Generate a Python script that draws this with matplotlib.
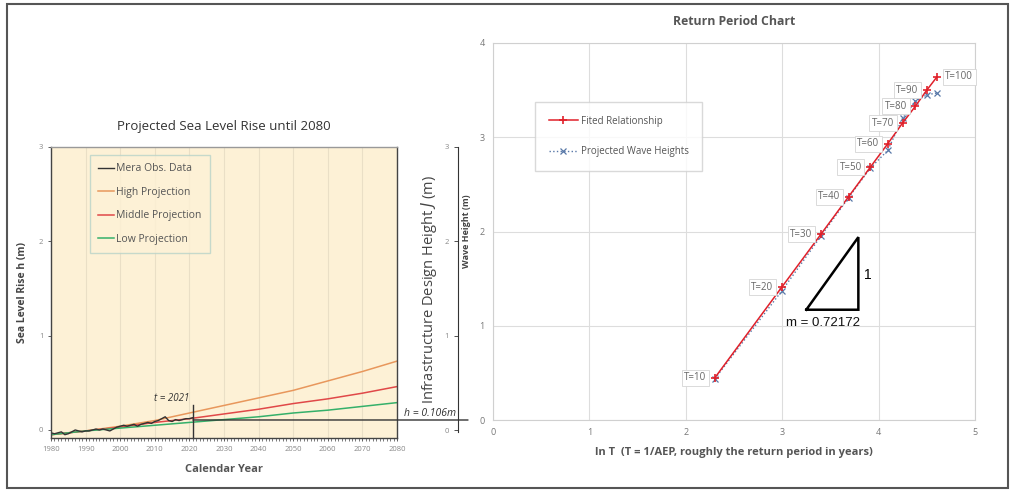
import numpy as np
import matplotlib as mpl
mpl.use('Agg')
import matplotlib.pyplot as plt
from matplotlib.patches import Rectangle

# ---- left chart data (sea level rise) ----
obs_years = list(range(1980, 2022))
obs_rise = [-0.03, -0.04, -0.03, -0.02, -0.05, -0.04, -0.02, 0.00, -0.01, -0.02,
            -0.01, -0.01, 0.00, 0.01, 0.00, 0.01, 0.00, -0.01, 0.01, 0.03,
            0.04, 0.05, 0.04, 0.05, 0.06, 0.04, 0.06, 0.07, 0.08, 0.07,
            0.09, 0.10, 0.12, 0.14, 0.10, 0.09, 0.11, 0.10, 0.11, 0.12,
            0.12, 0.13]
proj_years = [1980, 1990, 2000, 2010, 2020, 2030, 2040, 2050, 2060, 2070, 2080]
high_proj = [-0.05, -0.01, 0.04, 0.10, 0.18, 0.26, 0.34, 0.42, 0.52, 0.62, 0.73]
mid_proj = [-0.05, -0.01, 0.03, 0.08, 0.12, 0.17, 0.22, 0.28, 0.33, 0.39, 0.46]
low_proj = [-0.05, -0.01, 0.02, 0.05, 0.08, 0.11, 0.14, 0.18, 0.21, 0.25, 0.29]
t_now = 2021
h_now = 0.106

# ---- right chart data (return period) ----
T_labels = ['T=10', 'T=20', 'T=30', 'T=40', 'T=50', 'T=60', 'T=70', 'T=80', 'T=90', 'T=100']
lnT = [2.303, 2.996, 3.401, 3.689, 3.912, 4.094, 4.248, 4.382, 4.500, 4.605]
fitted = [0.45, 1.41, 1.97, 2.37, 2.68, 2.93, 3.15, 3.33, 3.50, 3.64]
projected = [0.44, 1.37, 1.95, 2.36, 2.67, 2.86, 3.20, 3.38, 3.45, 3.47]
slope_txt = 'm = 0.72172'

plt.rcParams['font.family'] = ['Open Sans', 'DejaVu Sans']

W, H = 1013, 491
fig = plt.figure(figsize=(W / 100, H / 100), dpi=100)
fig.patch.set_facecolor('white')

def fx(px):
    return px / W

def fy(py):
    return 1 - py / H

# outer frame
fig.patches.append(Rectangle((fx(7), fy(488)), fx(1008) - fx(7), fy(4) - fy(488),
                             transform=fig.transFigure, fill=False,
                             edgecolor='#555555', linewidth=1.5))

# ================= left chart =================
ax1 = fig.add_axes([fx(51), fy(438), fx(397) - fx(51), fy(147) - fy(438)])
ax1.set_facecolor('#FDF1D6')
ax1.set_xlim(1980, 2080)
ax1.set_ylim(-0.085, 3.0)
ax1.set_xticks(range(1980, 2081, 10))
ax1.set_xticks(range(1980, 2081, 1), minor=True)
ax1.set_yticks([0, 1, 2, 3])
ax1.tick_params(axis='both', labelsize=5.5, colors='#444444', labelcolor='#888888',
                length=2, width=0.6)
ax1.tick_params(axis='x', which='minor', length=2, width=0.5, colors='#444444')
ax1.grid(axis='x', color='#EADFC6', linewidth=0.8)
for s in ax1.spines.values():
    s.set_color('#444444')
    s.set_linewidth(1.0)
ax1.spines['top'].set_color('#999999')

ax1.plot(proj_years, high_proj, color='#E8975C', linewidth=1.1, label='High Projection')
ax1.plot(proj_years, mid_proj, color='#E04848', linewidth=1.1, label='Middle Projection')
ax1.plot(proj_years, low_proj, color='#35B06A', linewidth=1.1, label='Low Projection')
ax1.plot(obs_years, obs_rise, color='#333333', linewidth=1.0, label='Mera Obs. Data')

handles, labels = ax1.get_legend_handles_labels()
order = [3, 0, 1, 2]
leg = ax1.legend([handles[i] for i in order], [labels[i] for i in order],
                 loc='upper left', bbox_to_anchor=((90 - 51) / (397 - 51), (438 - 155) / (438 - 147)),
                 borderaxespad=0, fontsize=7.5,
                 frameon=True, fancybox=False, labelspacing=1.2,
                 handlelength=1.5, handletextpad=0.2, borderpad=0.8)
leg.get_frame().set_facecolor('#FDF1D6')
leg.get_frame().set_edgecolor('#B9D3C9')
for t in leg.get_texts():
    t.set_color('#555555')

ax1.set_title('Projected Sea Level Rise until 2080', fontsize=9.5, color='#333333', pad=12)
ax1.set_xlabel('Calendar Year', fontsize=8, fontweight='bold', color='#555555', labelpad=8)
ax1.set_ylabel('Sea Level Rise h (m)', fontsize=7.5, fontweight='bold', color='#444444', labelpad=8)

# t = 2021 and h = 0.106 markers
ax1.plot([t_now, t_now], [-0.085, 0.26], color='#333333', linewidth=1.0, clip_on=False)
ax1.text(t_now - 1, 0.28, 't = 2021', fontsize=7, style='italic', color='#333333',
         ha='right', va='bottom')
ax1.annotate('', xy=(fx(468), fy(420)), xycoords='figure fraction',
             xytext=(t_now, h_now), textcoords='data',
             arrowprops=dict(arrowstyle='-', color='#333333', linewidth=1.0,
                             shrinkA=0, shrinkB=0))
ax1.text(fx(456), fy(413), 'h = 0.106m', transform=fig.transFigure, fontsize=7.5,
         style='italic', color='#333333', ha='right', va='center')

# secondary axis "Infrastructure Design Height"
ax3 = fig.add_axes([fx(458), fy(432), 0.0001, fy(147) - fy(432)])
ax3.set_ylim(-0.02, 3.0)
ax3.set_xticks([])
ax3.set_yticks([0, 1, 2, 3])
for k in ['top', 'right', 'bottom']:
    ax3.spines[k].set_visible(False)
ax3.spines['left'].set_color('#333333')
ax3.tick_params(axis='y', labelsize=5.5, labelcolor='#888888', colors='#333333',
                length=3, width=0.6)
ax3.set_ylabel('Infrastructure Design Height $\\mathit{J}$ (m)', fontsize=10.5,
               color='#444444', labelpad=4)

# ================= right chart =================
ax2 = fig.add_axes([fx(493), fy(420), fx(975) - fx(493), fy(43) - fy(420)])
ax2.set_xlim(0, 5)
ax2.set_ylim(0, 4)
ax2.set_xticks(range(0, 6))
ax2.set_yticks(range(0, 5))
ax2.grid(color='#DDDDDD', linewidth=0.8)
ax2.set_axisbelow(True)
for s in ax2.spines.values():
    s.set_color('#D0D0D0')
ax2.tick_params(axis='both', length=0, labelsize=6.5, labelcolor='#777777', pad=6)

ax2.plot(lnT, fitted, color='#E0202A', linewidth=1.1, marker='+', markersize=6,
         markeredgewidth=1.2, label='Fited Relationship', zorder=3)
ax2.plot(lnT, projected, color='#5878A8', linewidth=1.0, linestyle=':', marker='x',
         markersize=5, markeredgewidth=0.9, label='Projected Wave Heights', zorder=2)

for i, lab in enumerate(T_labels):
    if lab == 'T=100':
        off, ha = (6, 0), 'left'
    else:
        off, ha = (-6, 0), 'right'
    ax2.annotate(lab, xy=(lnT[i], fitted[i]), xytext=off, textcoords='offset points',
                 ha=ha, va='center', fontsize=7, color='#666666',
                 bbox=dict(boxstyle='square,pad=0.25', facecolor='white',
                           edgecolor='#D5D5D5', linewidth=0.6))

# slope triangle
tri_x = [3.25, 3.79, 3.79, 3.25]
tri_y = [1.17, 1.17, 1.94, 1.17]
ax2.plot(tri_x, tri_y, color='black', linewidth=1.8, solid_joinstyle='miter')
ax2.text(3.85, 1.54, '1', fontsize=10, color='black', ha='left', va='center',
         family=['Liberation Sans'])
ax2.text(3.42, 1.03, slope_txt, fontsize=9.5, color='#111111', ha='center', va='center',
         family=['Liberation Sans'])

leg2 = ax2.legend(loc='upper left', bbox_to_anchor=((535 - 493) / (975 - 493), (420 - 102) / (420 - 43)),
                  borderaxespad=0, fontsize=7, frameon=True, fancybox=False, labelspacing=2.0,
                  handlelength=3.0, borderpad=1.4, handletextpad=0.3)
leg2.get_frame().set_edgecolor('#D0D0D0')
for t in leg2.get_texts():
    t.set_color('#555555')

ax2.set_title('Return Period Chart', fontsize=8.8, fontweight='bold', color='#555555', pad=13)
ax2.set_xlabel('ln T  (T = 1/AEP, roughly the return period in years)', fontsize=8,
               fontweight='bold', color='#555555', labelpad=7)
ax2.set_ylabel('Wave Height (m)', fontsize=6.5, fontweight='bold', color='#444444', labelpad=6)

plt.savefig('out.png', dpi=100)
